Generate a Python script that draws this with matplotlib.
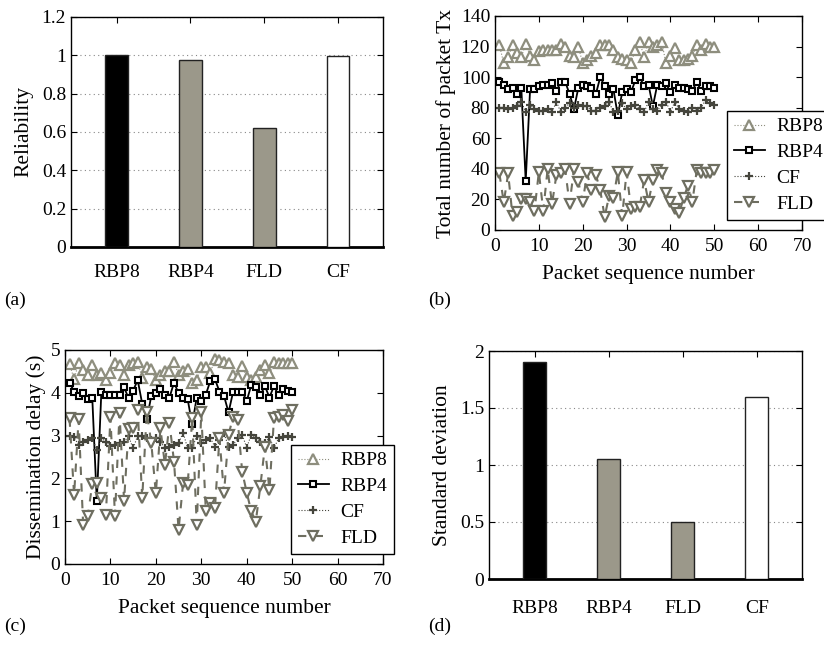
import numpy as np
import matplotlib
matplotlib.use("Agg")
import matplotlib.pyplot as plt

plt.rcParams['font.family'] = 'serif'
plt.rcParams['font.serif'] = ['Liberation Serif', 'DejaVu Serif']
plt.rcParams['font.size'] = 14
plt.rcParams['axes.labelsize'] = 15.5

W, H = 824, 654

# bar panels
protocols = ["RBP8", "RBP4", "FLD", "CF"]
reliability = [1.0, 0.975, 0.62, 0.995]
std_dev = [1.9, 1.05, 0.5, 1.6]
bar_colors = ["#000000", "#9b988a", "#9b988a", "#ffffff"]

# packet sequence numbers
seq = list(range(1, 51))

# (b) total number of packet transmissions
tx_rbp8 = [121, 109, 113, 121, 116, 113, 122, 114, 111, 117, 118, 118, 118, 118, 122, 120,
           114, 113, 120, 109, 111, 114, 116, 121, 121, 121, 118, 113, 112, 111, 109, 118,
           123, 113, 123, 120, 121, 123, 109, 114, 119, 111, 111, 112, 114, 121, 118, 122,
           120, 120]
tx_rbp4 = [97, 95, 92, 93, 89, 93, 32, 92, 92, 94, 95, 95, 96, 91, 97, 97, 89, 79, 93, 95,
           94, 93, 89, 100, 94, 89, 92, 75, 90, 92, 90, 98, 100, 94, 95, 81, 95, 94, 96, 90,
           95, 93, 93, 92, 91, 97, 91, 94, 94, 93]
tx_cf = [80, 80, 79, 80, 81, 84, 77, 82, 79, 78, 78, 79, 77, 84, 77, 80, 83, 80, 82, 81,
         81, 78, 78, 80, 81, 84, 77, 78, 83, 79, 81, 82, 79, 77, 84, 79, 78, 82, 84, 77,
         84, 79, 78, 77, 80, 78, 80, 85, 83, 82]
tx_fld = [37, 18, 37, 9, 12, 20, 20, 18.5, 12.6, 38, 12.6, 40, 17, 36, 37.5, 39.7, 17, 39.7,
          31.6, 18.5, 37, 26, 36, 26, 8.7, 22, 21, 38, 9, 38, 14, 15, 15, 32.7, 18.5, 32.7,
          39, 37, 24.4, 18.5, 14, 11, 21, 29, 18.5, 39, 37.5, 37, 37, 39]

# (c) dissemination delay (s)
dl_rbp8 = [4.67, 4.32, 4.69, 4.53, 4.42, 4.65, 4.42, 4.46, 4.30, 4.46, 4.69, 4.65, 4.42,
           4.65, 4.69, 4.73, 4.35, 4.60, 4.55, 4.30, 4.42, 4.50, 4.50, 4.73, 4.42, 4.50,
           4.55, 4.23, 4.30, 4.60, 4.60, 4.46, 4.80, 4.76, 4.73, 4.69, 4.42, 4.38, 4.62,
           4.38, 4.30, 4.38, 4.53, 4.65, 4.46, 4.73, 4.69, 4.69, 4.69, 4.69]
dl_rbp4 = [4.24, 4.03, 3.93, 3.99, 3.85, 3.89, 1.47, 4.02, 3.94, 3.95, 3.95, 3.96, 4.13,
           3.87, 4.05, 4.30, 3.74, 3.38, 3.93, 3.99, 4.09, 3.94, 3.89, 4.24, 3.99, 3.89,
           3.85, 3.26, 3.89, 3.82, 3.96, 4.28, 4.32, 4.03, 3.93, 3.54, 4.02, 4.02, 4.03,
           3.81, 4.18, 4.14, 3.94, 4.16, 3.89, 4.16, 3.94, 4.08, 4.05, 4.03]
dl_cf = [2.98, 2.96, 2.78, 2.84, 2.90, 2.94, 2.67, 2.94, 2.86, 2.76, 2.78, 2.82, 2.86, 2.98,
         2.70, 3.00, 2.98, 2.94, 2.90, 2.94, 2.86, 2.70, 2.74, 2.78, 2.82, 3.07, 2.70, 2.70,
         3.00, 2.82, 2.90, 2.94, 2.74, 2.90, 3.05, 2.74, 2.78, 2.94, 3.02, 2.72, 3.02, 2.94,
         2.86, 2.82, 2.96, 2.70, 2.94, 2.96, 2.98, 2.96]
dl_fld = [3.40, 1.61, 3.38, 0.91, 1.11, 1.87, 1.89, 1.54, 1.15, 3.43, 1.12, 3.52, 1.48, 3.15,
          3.17, 3.60, 1.54, 3.56, 2.82, 1.65, 3.17, 2.32, 3.29, 2.39, 0.80, 1.89, 1.85, 3.40,
          0.91, 3.54, 1.23, 1.42, 1.30, 2.94, 1.65, 3.02, 3.44, 3.37, 2.16, 1.67, 1.23, 0.99,
          1.82, 2.74, 1.73, 3.40, 3.43, 3.48, 3.33, 3.60]

c_rbp8 = "#8e8e7e"
c_fld = "#6e6e60"
c_cf = "#45453c"


def px_axes(fig, l, t, r, b):
    return fig.add_axes([l / W, 1 - b / H, (r - l) / W, (b - t) / H])


def style_box(ax):
    ax.tick_params(direction='in', top=True, right=True, length=4, width=0.8)
    for sp in ax.spines.values():
        sp.set_linewidth(1.0)


def bar_panel(ax, values, ymax, yticks, yticklabels, ylabel, xpad):
    x = np.arange(1, len(protocols) + 1)
    ax.bar(x, values, width=0.31, color=bar_colors, edgecolor="#222222", linewidth=1.0, zorder=3)
    ax.set_xlim(0.38, 4.61)
    ax.set_ylim(0, ymax)
    ax.set_xticks(x)
    ax.set_xticklabels(protocols)
    ax.set_yticks(yticks)
    ax.set_yticklabels(yticklabels)
    ax.yaxis.grid(True, linestyle=(0, (1, 3)), color="#888888", linewidth=0.8, zorder=0)
    ax.set_ylabel(ylabel, labelpad=6)
    style_box(ax)
    ax.tick_params(axis='x', bottom=False, pad=xpad)
    ax.spines['bottom'].set_linewidth(2.0)


def line_panel(ax, series, ymax, yticks, ylabel, legend_xy):
    r8, r4, cf, fld = series
    ax.plot(seq, r8, linestyle=':', color=c_rbp8, linewidth=0.8, marker='^', markersize=7,
            markerfacecolor='white', markeredgecolor=c_rbp8, markeredgewidth=1.6, label='RBP8')
    ax.plot(seq, r4, linestyle='-', color='black', linewidth=1.3, marker='s', markersize=5,
            markerfacecolor='white', markeredgecolor='black', markeredgewidth=1.5, label='RBP4')
    ax.plot(seq, cf, linestyle=':', color=c_cf, linewidth=0.8, marker='+', markersize=6,
            markeredgewidth=1.6, label='CF')
    ax.plot(seq, fld, linestyle='--', color=c_fld, linewidth=1.5, marker='v', markersize=7,
            markerfacecolor='white', markeredgecolor=c_fld, markeredgewidth=1.6, label='FLD',
            dashes=(4, 4))
    ax.set_xlim(0, 70)
    ax.set_ylim(0, ymax)
    ax.set_xticks(range(0, 71, 10))
    ax.set_yticks(yticks)
    ax.set_xlabel('Packet sequence number', labelpad=7)
    ax.set_ylabel(ylabel, labelpad=3)
    style_box(ax)
    ax.tick_params(axis='x', pad=6)
    leg = ax.legend(loc='upper left', bbox_to_anchor=(legend_xy[0] / W, 1 - legend_xy[1] / H),
                    bbox_transform=ax.figure.transFigure, frameon=True, fancybox=False,
                    framealpha=1, edgecolor='black', borderpad=0.35, labelspacing=0.42,
                    handlelength=1.6, handletextpad=0.6, borderaxespad=0)
    leg.get_frame().set_linewidth(1.0)


fig = plt.figure(figsize=(W / 100, H / 100), dpi=100)

ax_a = px_axes(fig, 71, 17, 383, 247)
bar_panel(ax_a, reliability, 1.2, [0, 0.2, 0.4, 0.6, 0.8, 1.0, 1.2],
          ['0', '0.2', '0.4', '0.6', '0.8', '1', '1.2'], 'Reliability', 12)

ax_b = px_axes(fig, 495, 16, 802, 230)
line_panel(ax_b, (tx_rbp8, tx_rbp4, tx_cf, tx_fld), 140, range(0, 141, 20),
           'Total number of packet Tx', (727, 111))

ax_c = px_axes(fig, 65, 350, 383, 564)
line_panel(ax_c, (dl_rbp8, dl_rbp4, dl_cf, dl_fld), 5, range(0, 6),
           'Dissemination delay (s)', (291, 445))

ax_d = px_axes(fig, 489, 351, 802, 579)
bar_panel(ax_d, std_dev, 2, [0, 0.5, 1, 1.5, 2], ['0', '0.5', '1', '1.5', '2'],
          'Standard deviation', 15)

fig.text(4 / W, 1 - 300 / H, '(a)', va='center', ha='left')
fig.text(428 / W, 1 - 300 / H, '(b)', va='center', ha='left')
fig.text(4 / W, 1 - 626 / H, '(c)', va='center', ha='left')
fig.text(428 / W, 1 - 626 / H, '(d)', va='center', ha='left')

fig.savefig('out.png', dpi=100)
